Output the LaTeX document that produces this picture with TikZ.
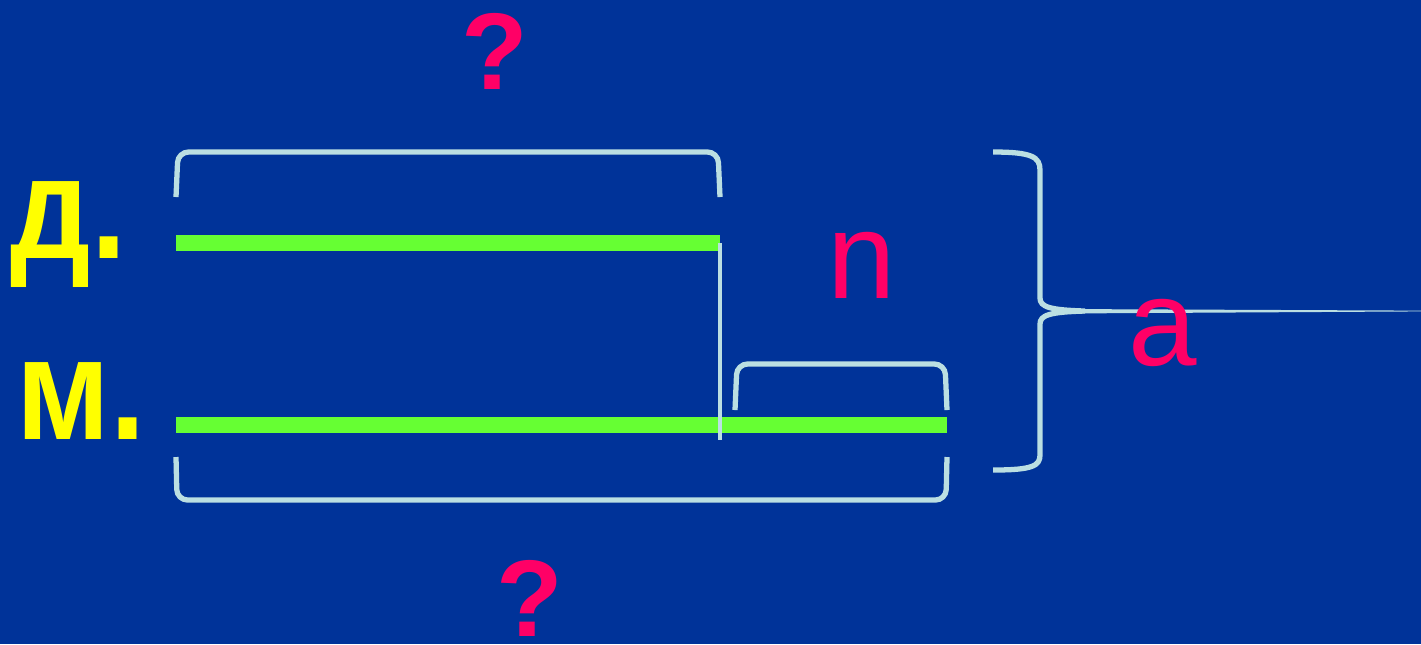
\documentclass[tikz,border=0pt]{standalone}
\usepackage{fontspec}
\setmainfont{Liberation Sans}
\usetikzlibrary{positioning}
\definecolor{slidebg}{HTML}{003399}
\definecolor{barcol}{HTML}{66FF33}
\definecolor{brkcol}{HTML}{BBDFE2}
\definecolor{magcol}{HTML}{FF0066}
\definecolor{yelcol}{HTML}{FFFF00}
\tikzset{
  rowlbl/.style={font=\fontsize{36}{36}\selectfont\bfseries, text=yelcol, inner sep=0pt,
                 anchor=base west, yscale=1.15},
  qmark/.style={font=\fontsize{31}{31}\selectfont\bfseries, text=magcol, inner sep=0pt, anchor=base},
  varlbl/.style={font=\fontsize{35}{35}\selectfont, text=magcol, inner sep=0pt, anchor=base},
  segbar/.style={draw=barcol, line width=4.3pt},
  brk/.style={draw=brkcol, line width=1.5pt, rounded corners=3pt},
  divline/.style={draw=brkcol, line width=1.3pt},
}

\begin{document}
\begin{tikzpicture}[x=0.01cm, y=-0.01cm]

\useasboundingbox (0,0) rectangle (1421,644);
\fill[slidebg] (0,0) rectangle (1421,644);

% bar ends
\coordinate (d0) at (176,243);
\coordinate (d1) at (720,243);
\coordinate (m0) at (176,425);
\coordinate (m1) at (947,425);

\node[rowlbl, transform shape] (lblD) at (10,258) {д.};
\node[rowlbl, transform shape] (lblM) at (16,439) {м.};

\draw[segbar] (d0) -- (d1);
\draw[segbar] (m0) -- (m1);

% divider
\draw[divline] (720,243) -- (720,440);

% brackets
\draw[brk] (176,197) -- (178,152) -- (718,152) -- (720,197);
\draw[brk] (735,410) -- (737,364) -- (945,364) -- (947,410);
\draw[brk] (176,457) -- (177,500) -- (946,500) -- (947,457);

% right brace
\draw[draw=brkcol, line width=1.5pt]
  (993,152) .. controls (1032,152) and (1040,157) .. (1040,170) -- (1040,298)
  .. controls (1040,307) and (1050,310) .. (1085,311)
  .. controls (1050,312) and (1040,315) .. (1040,324) -- (1040,455)
  .. controls (1040,466) and (1032,470) .. (993,470);
\fill[brkcol] (1060,309) -- (1421,310.6) -- (1421,311.4) -- (1060,313.5) -- cycle;

\node[qmark] (qTop) at (495,89) {?};
\node[qmark] (qBot) at (530,636) {?};
\node[varlbl] (lblN) at (862,298) {n};
\node[varlbl] (lblA) at (1163,365) {a};

\end{tikzpicture}
\end{document}
